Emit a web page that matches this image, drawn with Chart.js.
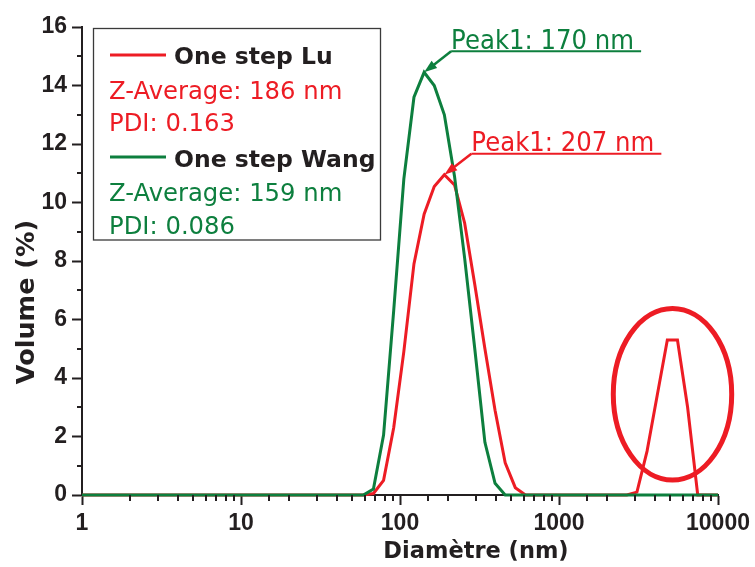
<!DOCTYPE html>
<html>
<head>
<meta charset="utf-8">
<script src="https://cdn.jsdelivr.net/npm/chart.js"></script>
<style>
  html, body { margin: 0; padding: 0; background: #fff; }
  canvas { display: block; }
</style>
</head>
<body>
<canvas id="dlsChart" width="755" height="567"></canvas>
<script>
// Diamètres (nm) - classes de taille DLS
const diametres = [1, 58.77, 68.06, 78.82, 91.28, 105.7, 122.4, 141.8, 164.2, 190.1, 220.2, 255.0,
    295.3, 342.0, 396.1, 458.7, 531.2, 615.1, 712.4, 2669, 3091, 3580, 4145, 4801, 5560, 6439,
    7456, 8635, 10000];

// Volume (%) - One step Lu
const volumeLu = [0, 0, 0.05, 0.5, 2.3, 4.9, 7.9, 9.6, 10.55, 10.95, 10.6, 9.3,
    7.2, 5.0, 2.9, 1.1, 0.25, 0, 0, 0, 0.1, 1.5, 3.4, 5.3, 5.3, 3.0,
    0, 0, 0];

// Volume (%) - One step Wang
const volumeWang = [0, 0, 0.2, 2.05, 6.3, 10.8, 13.6, 14.45, 14.0, 13.0, 10.9, 8.1,
    5.0, 1.8, 0.4, 0, 0, 0, 0, 0, 0, 0, 0, 0, 0, 0,
    0, 0, 0];

// Ticks
const ticksX = [1, 10, 100, 1000, 10000];
const ticksY = [0, 2, 4, 6, 8, 10, 12, 14, 16];

// Textes
const legendeLu = ["One step Lu", "Z-Average: 186 nm", "PDI: 0.163"];
const legendeWang = ["One step Wang", "Z-Average: 159 nm", "PDI: 0.086"];
const picLu = { x: 190.1, y: 10.95, texte: "Peak1: 207 nm" };
const picWang = { x: 141.8, y: 14.45, texte: "Peak1: 170 nm" };

const ROUGE = '#ed1c24';
const VERT = '#0d7f3e';
const NOIR = '#231f20';

const estMajeur = v => ticksX.some(t => Math.abs(t - v) < 1e-6);

function fleche(ctx, x0, y0, x1, y1, couleur) {
    const ang = Math.atan2(y1 - y0, x1 - x0);
    ctx.strokeStyle = couleur;
    ctx.fillStyle = couleur;
    ctx.lineWidth = 2.5;
    ctx.beginPath();
    ctx.moveTo(x0, y0);
    ctx.lineTo(x1 - 6 * Math.cos(ang), y1 - 6 * Math.sin(ang));
    ctx.stroke();
    ctx.beginPath();
    ctx.moveTo(x1, y1);
    ctx.lineTo(x1 - 13 * Math.cos(ang) + 4.5 * Math.sin(ang), y1 - 13 * Math.sin(ang) - 4.5 * Math.cos(ang));
    ctx.lineTo(x1 - 13 * Math.cos(ang) - 4.5 * Math.sin(ang), y1 - 13 * Math.sin(ang) + 4.5 * Math.cos(ang));
    ctx.closePath();
    ctx.fill();
}

function etiquettePic(ctx, chart, pic, couleur) {
    const sx = chart.scales.x, sy = chart.scales.y;
    const px = sx.getPixelForValue(pic.x), py = sy.getPixelForValue(pic.y);
    const lx = px + 27, ly = py - 21;
    fleche(ctx, lx, ly, px, py, couleur);
    ctx.strokeStyle = couleur;
    ctx.lineWidth = 2;
    ctx.beginPath();
    ctx.moveTo(lx, ly);
    ctx.lineTo(lx + 190, ly);
    ctx.stroke();
    ctx.save();
    ctx.translate(lx, ly - 2.5);
    ctx.scale(1, 1.07);
    ctx.font = '24.4px "DejaVu Sans"';
    ctx.fillStyle = couleur;
    ctx.textAlign = 'left';
    ctx.textBaseline = 'alphabetic';
    ctx.fillText(pic.texte, 0, 0);
    ctx.restore();
}

const decor = {
    id: 'decor',
    afterDraw(chart) {
        const ctx = chart.ctx;
        const sx = chart.scales.x, sy = chart.scales.y;
        const a = chart.chartArea;
        ctx.save();

        // petites graduations
        ctx.strokeStyle = NOIR;
        ctx.lineWidth = 2;
        sx.ticks.forEach(t => {
            if (estMajeur(t.value)) return;
            const x = Math.round(sx.getPixelForValue(t.value));
            ctx.beginPath();
            ctx.moveTo(x, a.bottom);
            ctx.lineTo(x, a.bottom + 6);
            ctx.stroke();
        });
        sy.ticks.forEach(t => {
            if (t.value % 2 === 0) return;
            const y = Math.round(sy.getPixelForValue(t.value));
            ctx.beginPath();
            ctx.moveTo(a.left - 5, y);
            ctx.lineTo(a.left, y);
            ctx.stroke();
        });

        // titres des axes
        ctx.fillStyle = NOIR;
        ctx.font = 'bold 22.5px "DejaVu Sans"';
        ctx.textAlign = 'center';
        ctx.textBaseline = 'alphabetic';
        ctx.fillText('Diamètre (nm)', 476, 558);
        ctx.save();
        ctx.translate(33.5, 302);
        ctx.rotate(-Math.PI / 2);
        ctx.font = 'bold 25.5px "DejaVu Sans"';
        ctx.fillText('Volume (%)', 0, 0);
        ctx.restore();

        // légende
        ctx.strokeStyle = '#3a3a3a';
        ctx.lineWidth = 1.3;
        ctx.strokeRect(93.5, 28.5, 287, 211.5);
        ctx.lineWidth = 3;
        ctx.strokeStyle = ROUGE;
        ctx.beginPath(); ctx.moveTo(110, 55); ctx.lineTo(166, 55); ctx.stroke();
        ctx.strokeStyle = VERT;
        ctx.beginPath(); ctx.moveTo(110, 157); ctx.lineTo(166, 157); ctx.stroke();
        ctx.textAlign = 'left';
        ctx.font = 'bold 23.5px "DejaVu Sans"';
        ctx.fillStyle = NOIR;
        ctx.fillText(legendeLu[0], 174, 64);
        ctx.fillText(legendeWang[0], 174, 166.5);
        ctx.font = '24.3px "DejaVu Sans"';
        ctx.fillStyle = ROUGE;
        ctx.fillText(legendeLu[1], 109, 98.5);
        ctx.fillText(legendeLu[2], 109, 131);
        ctx.fillStyle = VERT;
        ctx.fillText(legendeWang[1], 109, 200.5);
        ctx.fillText(legendeWang[2], 109, 233.5);

        // étiquettes des pics
        etiquettePic(ctx, chart, picWang, VERT);
        etiquettePic(ctx, chart, picLu, ROUGE);

        // ellipse autour du second pic
        const x0 = sx.getPixelForValue(2195), x1 = sx.getPixelForValue(12195);
        const y0 = sy.getPixelForValue(6.38), y1 = sy.getPixelForValue(0.51);
        ctx.strokeStyle = ROUGE;
        ctx.lineWidth = 5;
        ctx.beginPath();
        ctx.ellipse((x0 + x1) / 2, (y0 + y1) / 2, (x1 - x0) / 2, (y1 - y0) / 2, 0, 0, 2 * Math.PI);
        ctx.stroke();

        ctx.restore();
    }
};

const ctxDls = document.getElementById('dlsChart').getContext('2d');

const dlsChart = new Chart(ctxDls, {
    type: 'line',
    data: {
        datasets: [{
            label: legendeWang[0],
            data: diametres.map((d, i) => ({ x: d, y: volumeWang[i] })),
            borderColor: VERT,
            borderWidth: 3,
            pointRadius: 0,
            tension: 0,
            clip: false,
            order: 0
        }, {
            label: legendeLu[0],
            data: diametres.map((d, i) => ({ x: d, y: volumeLu[i] })),
            borderColor: ROUGE,
            borderWidth: 3,
            pointRadius: 0,
            tension: 0,
            clip: false,
            order: 1
        }]
    },
    options: {
        responsive: false,
        animation: false,
        devicePixelRatio: 1,
        layout: { padding: { top: 27, right: 37, left: 0, bottom: 0 } },
        plugins: {
            legend: { display: false },
            tooltip: { enabled: false }
        },
        scales: {
            x: {
                type: 'logarithmic',
                min: 1,
                max: 10000,
                afterFit(scale) { scale.height = 72; },
                border: { color: NOIR, width: 2 },
                grid: {
                    drawOnChartArea: false,
                    tickLength: 10,
                    tickWidth: 2,
                    tickColor: c => (c.tick && estMajeur(c.tick.value)) ? NOIR : 'rgba(0,0,0,0)'
                },
                ticks: {
                    autoSkip: false,
                    maxRotation: 0,
                    padding: 5,
                    color: NOIR,
                    font: { family: 'Liberation Sans', weight: 'bold', size: 23 },
                    callback: v => estMajeur(v) ? String(Math.round(v)) : ''
                }
            },
            y: {
                min: 0,
                max: 16,
                afterFit(scale) { scale.width = 82; },
                border: { color: NOIR, width: 2 },
                grid: {
                    drawOnChartArea: false,
                    tickLength: 10,
                    tickWidth: 2,
                    tickColor: c => (c.tick && ticksY.includes(c.tick.value)) ? NOIR : 'rgba(0,0,0,0)'
                },
                ticks: {
                    stepSize: 1,
                    autoSkip: false,
                    padding: 5,
                    color: NOIR,
                    font: { family: 'Liberation Sans', weight: 'bold', size: 23 },
                    callback: v => ticksY.includes(v) ? String(v) : ''
                }
            }
        }
    },
    plugins: [decor]
});
</script>
</body>
</html>
